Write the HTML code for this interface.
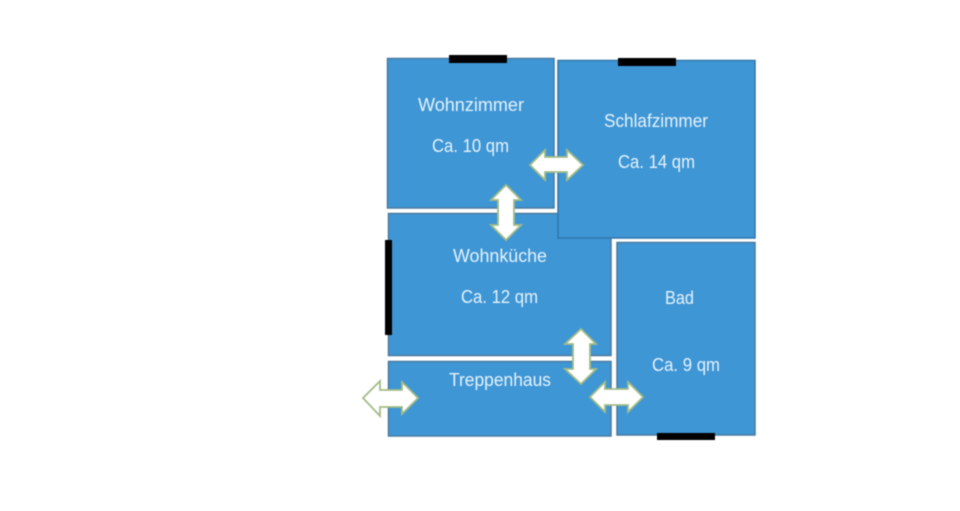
<!DOCTYPE html>
<html><head><meta charset="utf-8"><style>
html,body{margin:0;padding:0;background:#fff;width:960px;height:511px;overflow:hidden}
svg{display:block}
text{font-family:"Liberation Sans",sans-serif;font-size:18px;fill:#e4f2fb}
.r{fill:#3f96d5;stroke:#4a7a9f;stroke-width:1.5}
.a{fill:#fff;stroke:#a3bc86;stroke-width:1.8;stroke-linejoin:miter}
</style></head><body>
<svg width="960" height="511" viewBox="0 0 960 511" xmlns="http://www.w3.org/2000/svg">
<g style="filter:blur(0.5px)">
<rect class="r" x="387.5" y="58.5" width="166.5" height="149.5"/>
<rect class="r" x="388.5" y="213.5" width="222.5" height="142"/>
<rect class="r" x="558" y="60.5" width="197" height="177.5" style="stroke:#2f77ab"/>
<rect class="r" x="388.5" y="361.5" width="222.5" height="74.5"/>
<rect class="r" x="617" y="242.5" width="138" height="192.5"/>
<rect x="449" y="55" width="58" height="8" fill="#000"/>
<rect x="618" y="58" width="58" height="8" fill="#000"/>
<rect x="385" y="240" width="7" height="95" fill="#000"/>
<rect x="657" y="433" width="58" height="7" fill="#000"/>
<polygon class="a" points="530,165 545,150 545,157 567,157 567,150 583,165 567,180 567,172 545,172 545,180"/>
<polygon class="a" points="506,185 521,200 514,200 514,225 521,225 506,240 491,225 498,225 498,200 491,200"/>
<polygon class="a" points="581,329 596,344 590,344 590,369 596,369 581,384 565,369 573,369 573,344 565,344"/>
<polygon class="a" points="590,397 605,382 605,389 628,389 628,382 643,397 628,412 628,405 605,405 605,412"/>
<polygon class="a" points="363,398 380,381 380,390 402,390 402,382 418,398 402,414 402,407 380,407 380,416"/>
<text x="418" y="111" textLength="106" lengthAdjust="spacingAndGlyphs">Wohnzimmer</text>
<text x="432" y="152" textLength="77" lengthAdjust="spacingAndGlyphs">Ca. 10 qm</text>
<text x="604" y="127" textLength="104" lengthAdjust="spacingAndGlyphs">Schlafzimmer</text>
<text x="618" y="168" textLength="77" lengthAdjust="spacingAndGlyphs">Ca. 14 qm</text>
<text x="453" y="262" textLength="94" lengthAdjust="spacingAndGlyphs">Wohnküche</text>
<text x="461" y="303" textLength="77" lengthAdjust="spacingAndGlyphs">Ca. 12 qm</text>
<text x="665" y="304" textLength="29" lengthAdjust="spacingAndGlyphs">Bad</text>
<text x="652" y="371" textLength="68" lengthAdjust="spacingAndGlyphs">Ca. 9 qm</text>
<text x="449" y="386" textLength="102" lengthAdjust="spacingAndGlyphs">Treppenhaus</text>
</g>
</svg>
</body></html>
